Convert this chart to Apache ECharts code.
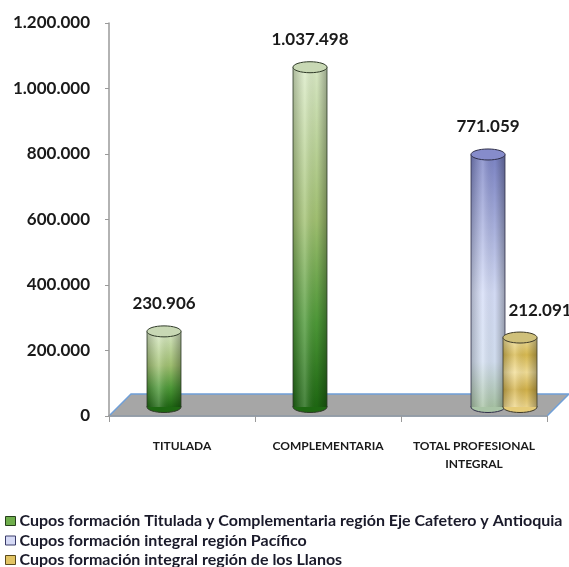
<!DOCTYPE html>
<html>
<head>
<meta charset="utf-8">
<script src="https://cdn.jsdelivr.net/npm/echarts@6/dist/echarts.min.js"></script>
<style>
  html, body { margin: 0; padding: 0; background: #fff; }
  #chart { width: 569px; height: 567px; }
</style>
</head>
<body>
<div id="chart"></div>
<script>
// datos
const categories = ['TITULADA', 'COMPLEMENTARIA', 'TOTAL PROFESIONAL\nINTEGRAL'];
const seriesNames = [
  'Cupos formación Titulada y Complementaria región Eje Cafetero y Antioquia',
  'Cupos formación integral región Pacífico',
  'Cupos formación integral región de los Llanos'
];
const ejeCafetero = [230906, 1037498, null];
const pacifico = [null, null, 771059];
const llanos = [null, null, 212091];
const yMax = 1200000;
const yStep = 200000;

// layout (ejes al frente, cilindros desplazados hacia el fondo)
const AX_LEFT = 109, AX_RIGHT = 22, AX_TOP = 23, AX_BOTTOM = 151;
const SHIFT_X = 14, SHIFT_Y = 9, DEPTH = 22;
const BAR_W = 34, BAR_STEP = 32;
const LEGEND_TOP = 513, LEGEND_STEP = 19.5;

const fmt = v => String(v).replace(/\B(?=(\d{3})+(?!\d))/g, '.');

const styles = [
  { // verde
    body: [[0, '#dcecc8'], [0.45, '#a2c272'], [0.75, '#4e9a38'], [1, '#1e6812']],
    top: '#c8d8b4', bottom: '#1e6812', border: '#2f3a28', icon: '#6fae4c', iconBorder: '#26401c'
  },
  { // azul
    body: [[0, '#7c84c6'], [0.55, '#d6def8'], [0.82, '#d4e0f2'], [1, '#a9c4a6']],
    top: '#868ccb', bottom: '#a9c4a6', border: '#30304a', icon: '#d6daf6', iconBorder: '#3a3c6a'
  },
  { // amarillo
    body: [[0, '#f2e2a0'], [0.25, '#d9bb52'], [0.5, '#f3df98'], [0.75, '#d3b24a'], [1, '#f0d98e']],
    top: '#cfc07a', bottom: '#e6cc78', border: '#3e3a28', icon: '#e2c464', iconBorder: '#5a4a1c'
  }
];

function cylinder(idx, labelDx) {
  const st = styles[idx];
  return function (params, api) {
    const c = api.value(0), v = api.value(1);
    const topPt = api.coord([c, v]);
    const basePt = api.coord([c, 0]);
    const cx = topPt[0] + (idx - 1) * BAR_STEP;
    const x = cx - BAR_W / 2, ty = topPt[1], by = basePt[1];
    const rx = BAR_W / 2, ry = 5.5;
    return {
      type: 'group',
      children: [
        { type: 'ellipse', shape: { cx: cx, cy: by, rx: rx, ry: ry },
          style: { fill: st.bottom, stroke: st.border, lineWidth: 1 } },
        { type: 'rect', shape: { x: x, y: ty, width: BAR_W, height: by - ty },
          style: { fill: new echarts.graphic.LinearGradient(0, 0, 0, 1,
            st.body.map(s => ({ offset: s[0], color: s[1] }))) } },
        { type: 'rect', shape: { x: x, y: ty, width: BAR_W, height: by - ty },
          style: { fill: new echarts.graphic.LinearGradient(0, 0, 1, 0, [
            { offset: 0, color: 'rgba(0,0,0,0.22)' },
            { offset: 0.35, color: 'rgba(255,255,255,0.2)' },
            { offset: 0.7, color: 'rgba(0,0,0,0.02)' },
            { offset: 1, color: 'rgba(0,0,0,0.3)' }]) } },
        { type: 'line', shape: { x1: x, y1: ty, x2: x, y2: by },
          style: { stroke: st.border, lineWidth: 0.8 } },
        { type: 'line', shape: { x1: x + BAR_W, y1: ty, x2: x + BAR_W, y2: by },
          style: { stroke: st.border, lineWidth: 0.8 } },
        { type: 'ellipse', shape: { cx: cx, cy: ty, rx: rx, ry: ry },
          style: { fill: st.top, stroke: st.border, lineWidth: 1 } },
        { type: 'text',
          style: { text: fmt(v), x: cx + labelDx, y: ty - 19, align: 'center', verticalAlign: 'bottom',
            font: 'bold 17px Lato', fill: '#1a1a1a' } }
      ]
    };
  };
}

const toData = arr => arr.map((v, i) => [i, v]).filter(d => d[1] != null);

// una leyenda por fila para que no se reparta en columnas
const legends = seriesNames.map((n, i) => ({
  orient: 'vertical', left: 5, top: LEGEND_TOP + i * LEGEND_STEP, padding: 0,
  itemWidth: 10, itemHeight: 9,
  textStyle: { fontFamily: 'Lato', fontWeight: 'bold', fontSize: 16, color: '#1a1a2a', padding: [0, 0, 0, -1] },
  data: [{ name: n, icon: 'rect',
    itemStyle: { color: styles[i].icon, borderColor: styles[i].iconBorder, borderWidth: 1 } }]
}));

const chart = echarts.init(document.getElementById('chart'));
const option = {
  animation: false,
  grid: [
    { left: AX_LEFT, right: AX_RIGHT, top: AX_TOP, bottom: AX_BOTTOM },
    { left: AX_LEFT + SHIFT_X, right: AX_RIGHT - SHIFT_X, top: AX_TOP - SHIFT_Y, bottom: AX_BOTTOM + SHIFT_Y }
  ],
  xAxis: [
    {
      gridIndex: 0, type: 'category', data: categories,
      axisLine: { lineStyle: { color: '#9a9a9a', width: 1.5 } },
      axisTick: { show: true, length: 6, lineStyle: { color: '#9a9a9a' } },
      axisLabel: { interval: 0, margin: 21, fontFamily: 'Lato', fontWeight: 'bold', fontSize: 12, color: '#1a1a1a', lineHeight: 18 }
    },
    { gridIndex: 1, type: 'category', data: categories, show: false }
  ],
  yAxis: [
    {
      gridIndex: 0, type: 'value', min: 0, max: yMax, interval: yStep,
      axisLine: { show: true, lineStyle: { color: '#9a9a9a', width: 1.5 } },
      axisTick: { show: true, length: 4, lineStyle: { color: '#9a9a9a' } },
      splitLine: { show: false },
      axisLabel: { margin: 19, formatter: fmt, fontFamily: 'Lato', fontWeight: 'bold', fontSize: 17, color: '#1a1a1a' }
    },
    { gridIndex: 1, type: 'value', min: 0, max: yMax, interval: yStep, show: false, splitLine: { show: false } }
  ],
  legend: legends,
  graphic: [
    {
      type: 'polygon', z: 0, silent: true,
      shape: { points: [
        [AX_LEFT, 567 - AX_BOTTOM], [569 - AX_RIGHT, 567 - AX_BOTTOM],
        [569 - AX_RIGHT + DEPTH, 567 - AX_BOTTOM - DEPTH], [AX_LEFT + DEPTH, 567 - AX_BOTTOM - DEPTH]
      ] },
      style: { fill: '#a6a6a6', stroke: '#6f9fd8', lineWidth: 1.5 }
    }
  ],
  series: [
    { name: seriesNames[0], type: 'custom', xAxisIndex: 1, yAxisIndex: 1, z: 5,
      itemStyle: { color: styles[0].icon }, renderItem: cylinder(0, 0), data: toData(ejeCafetero) },
    { name: seriesNames[1], type: 'custom', xAxisIndex: 1, yAxisIndex: 1, z: 5,
      itemStyle: { color: styles[1].icon }, renderItem: cylinder(1, 0), data: toData(pacifico) },
    { name: seriesNames[2], type: 'custom', xAxisIndex: 1, yAxisIndex: 1, z: 6,
      itemStyle: { color: styles[2].icon }, renderItem: cylinder(2, 20), data: toData(llanos) }
  ]
};
chart.setOption(option);
</script>
</body>
</html>
